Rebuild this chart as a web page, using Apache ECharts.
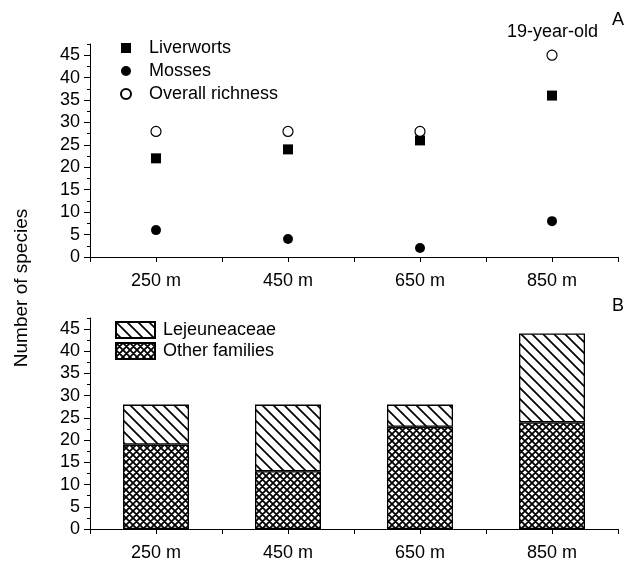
<!DOCTYPE html>
<html>
<head>
<meta charset="utf-8">
<script src="https://cdn.jsdelivr.net/npm/echarts@6/dist/echarts.min.js"></script>
<style>
html,body{margin:0;padding:0;background:#fff;}
#main{width:637px;height:562px;}
</style>
</head>
<body>
<div id="main"></div>
<script>
var categories = ['250 m', '450 m', '650 m', '850 m'];
var liverworts = [22, 24, 26, 36];
var mosses = [6, 4, 2, 8];
var overall = [28, 28, 28, 45];
var otherFamilies = [19, 13, 23, 24];
var lejeuneaceae = [9, 15, 5, 20];
var yMajorTicks = [0, 5, 10, 15, 20, 25, 30, 35, 40, 45];
var yMinorTicks = [2.5, 7.5, 12.5, 17.5, 22.5, 27.5, 32.5, 37.5, 42.5, 47.5];

var FONT = '"Liberation Sans", Arial, sans-serif';
var INK = '#000';
var FS = 18;

function makePattern(kind) {
  var c = document.createElement('canvas');
  var s = kind === 'diag' ? 11 : 7;
  c.width = s; c.height = s;
  var ctx = c.getContext('2d');
  ctx.fillStyle = '#fff';
  ctx.fillRect(0, 0, s, s);
  ctx.strokeStyle = INK;
  ctx.lineWidth = kind === 'diag' ? 1.7 : 1.8;
  ctx.beginPath();
  ctx.moveTo(-1, -1); ctx.lineTo(s + 1, s + 1);
  ctx.moveTo(-2, s - 2); ctx.lineTo(2, s + 2);
  ctx.moveTo(s - 2, -2); ctx.lineTo(s + 2, 2);
  if (kind === 'cross') {
    ctx.moveTo(-1, s + 1); ctx.lineTo(s + 1, -1);
    ctx.moveTo(-2, 2); ctx.lineTo(2, -2);
    ctx.moveTo(s - 2, s + 2); ctx.lineTo(s + 2, s - 2);
  }
  ctx.stroke();
  return { image: c, repeat: 'repeat' };
}

var chart = echarts.init(document.getElementById('main'), null, { renderer: 'canvas' });

function xAxes(gridIndex) {
  return [
    {
      type: 'category', gridIndex: gridIndex, data: categories, position: 'bottom',
      boundaryGap: true,
      axisLine: { show: true, lineStyle: { color: INK, width: 1 } },
      axisTick: { show: true, alignWithLabel: false, interval: 0, length: 5, lineStyle: { color: INK } },
      axisLabel: { show: true, margin: 15, color: INK, fontSize: FS, fontFamily: FONT, interval: 0 },
      splitLine: { show: false }
    },
    {
      type: 'category', gridIndex: gridIndex, data: categories, position: 'bottom',
      boundaryGap: true,
      axisLine: { show: false },
      axisTick: { show: true, alignWithLabel: true, interval: 0, length: 5, lineStyle: { color: INK } },
      axisLabel: { show: false },
      splitLine: { show: false }
    }
  ];
}

function yAxes(gridIndex) {
  return [
    {
      type: 'value', gridIndex: gridIndex, min: 0, max: 47.5, interval: 2.5, position: 'left',
      axisLine: { show: true, lineStyle: { color: INK, width: 1 } },
      axisTick: { show: true, length: 6, customValues: yMajorTicks, lineStyle: { color: INK } },
      axisLabel: { show: true, margin: 10, color: INK, fontSize: FS, fontFamily: FONT, customValues: yMajorTicks },
      splitLine: { show: false }
    },
    {
      type: 'value', gridIndex: gridIndex, min: 0, max: 47.5, interval: 2.5, position: 'left',
      axisLine: { show: false },
      axisTick: { show: true, length: 3, customValues: yMinorTicks, lineStyle: { color: INK } },
      axisLabel: { show: false },
      splitLine: { show: false }
    }
  ];
}

var diag = makePattern('diag');
var cross = makePattern('cross');

var option = {
  animation: false,
  backgroundColor: '#fff',
  textStyle: { fontFamily: FONT },
  grid: [
    { left: 90, right: 19, top: 44, height: 213 },
    { left: 90, right: 19, top: 318, height: 212 }
  ],
  xAxis: xAxes(0).concat(xAxes(1)),
  yAxis: yAxes(0).concat(yAxes(1)),
  legend: [
    {
      orient: 'vertical', left: 120, top: 39, padding: 0, itemWidth: 10, itemHeight: 10, itemGap: 5,
      textStyle: { fontSize: FS, color: INK, fontFamily: FONT, padding: [0, 0, 0, 13], lineHeight: 18 },
      itemStyle: { opacity: 1 },
      data: [
        { name: 'Liverworts', icon: 'rect' },
        { name: 'Mosses', icon: 'circle' },
        { name: 'Overall richness', icon: 'circle' }
      ]
    },
    {
      orient: 'vertical', left: 115, top: 321, padding: 0, itemWidth: 39, itemHeight: 16, itemGap: 3,
      textStyle: { fontSize: FS, color: INK, fontFamily: FONT, padding: [0, 0, 0, 3], lineHeight: 18 },
      data: [
        { name: 'Lejeuneaceae', icon: 'rect' },
        { name: 'Other families', icon: 'rect' }
      ]
    }
  ],
  graphic: [
    { type: 'text', left: 612, top: 11, style: { text: 'A', font: FS + 'px ' + FONT, fill: INK } },
    { type: 'text', left: 612, top: 297, style: { text: 'B', font: FS + 'px ' + FONT, fill: INK } },
    { type: 'text', left: 507, top: 23, style: { text: '19-year-old', font: FS + 'px ' + FONT, fill: INK } },
    { type: 'text', x: 22, y: 288, rotation: Math.PI / 2,
      style: { text: 'Number of species', font: '19px ' + FONT, fill: INK, align: 'center', verticalAlign: 'middle' } }
  ],
  series: [
    {
      name: 'Liverworts', type: 'scatter', xAxisIndex: 0, yAxisIndex: 0,
      symbol: 'rect', symbolSize: 10, data: liverworts,
      itemStyle: { color: INK, opacity: 1 }
    },
    {
      name: 'Mosses', type: 'scatter', xAxisIndex: 0, yAxisIndex: 0,
      symbol: 'circle', symbolSize: 10, data: mosses,
      itemStyle: { color: INK, opacity: 1 }
    },
    {
      name: 'Overall richness', type: 'scatter', xAxisIndex: 0, yAxisIndex: 0,
      symbol: 'circle', symbolSize: 10, data: overall,
      itemStyle: { color: '#fff', borderColor: INK, borderWidth: 1.2, opacity: 1 }
    },
    {
      name: 'Other families', type: 'bar', xAxisIndex: 2, yAxisIndex: 2, stack: 'fam',
      barWidth: '50%', data: otherFamilies,
      itemStyle: { color: cross, borderColor: INK, borderWidth: 1.3 }
    },
    {
      name: 'Lejeuneaceae', type: 'bar', xAxisIndex: 2, yAxisIndex: 2, stack: 'fam',
      barWidth: '50%', data: lejeuneaceae,
      itemStyle: { color: diag, borderColor: INK, borderWidth: 1.3 }
    }
  ]
};
chart.setOption(option);
</script>
</body>
</html>
